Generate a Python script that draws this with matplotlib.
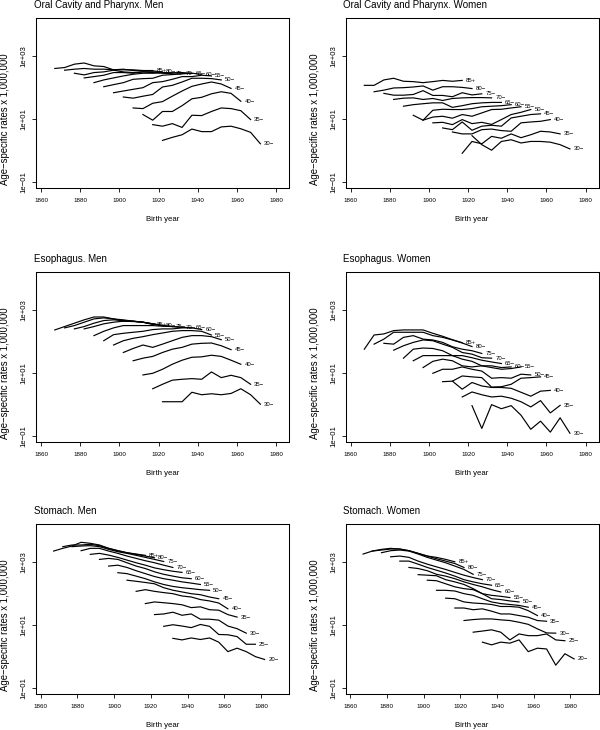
import matplotlib
matplotlib.use('Agg')
import matplotlib.pyplot as plt
from matplotlib.ticker import NullLocator

plt.rcParams['font.family'] = ['Liberation Sans', 'DejaVu Sans']

# calendar periods; birth cohort = period - age
periods = [1952, 1957, 1962, 1967, 1972, 1977, 1982, 1987, 1992, 1997, 2002]
ages_12 = [85, 80, 75, 70, 65, 60, 55, 50, 45, 40, 35, 30]
ages_14 = [85, 80, 75, 70, 65, 60, 55, 50, 45, 40, 35, 30, 25, 20]

# age-specific rates x 1,000,000, one row per age group (oldest first)
oral_men = [
    [395, 423, 541, 590, 479, 455, 358, 358, 358, 340, 340],
    [348, 375, 395, 375, 375, 358, 375, 340, 331, 331, 308],
    [279, 247, 293, 308, 348, 308, 293, 308, 293, 279, 266],
    [198, 218, 241, 293, 293, 279, 308, 308, 293, 286, 279],
    [140, 171, 198, 229, 259, 279, 279, 293, 286, 293, 279],
    [104, 121, 140, 179, 188, 193, 241, 253, 266, 279, 259],
    [67, 76, 86, 97, 140, 151, 179, 218, 218, 241, 229],
    [49, 45, 52, 59, 102, 115, 147, 193, 193, 188, 171],
    [22, 21, 31, 35, 52, 76, 107, 127, 147, 127, 92],
    [13.6, 9.0, 17, 17, 26, 43, 48, 62, 72, 64, 36],
    [6.5, 5.8, 7.0, 5.3, 12.9, 12.6, 17, 22, 21, 18, 9.4],
    [2.05, 2.56, 3.1, 4.7, 3.9, 3.9, 5.5, 5.8, 4.8, 3.7, 1.6],
]
oral_women = [
    [115, 115, 171, 193, 155, 151, 140, 151, 165, 155, 165],
    [72, 81, 95, 97, 102, 110, 81, 104, 104, 99, 91],
    [64, 56, 56, 59, 78, 55, 55, 50, 67, 57, 62],
    [41, 45, 46, 41, 44, 38, 44, 46, 47, 47, 46],
    [25, 28, 30, 32, 32, 23, 26, 30, 32, 33, 33],
    [12.9, 9.0, 18.6, 20, 19.6, 19.6, 21, 24, 25, 26, 28],
    [9.0, 11.3, 12, 10.4, 13.6, 12, 15.3, 19.6, 20, 22, 24],
    [7.4, 7.7, 6.5, 9.4, 7.0, 7.7, 6.6, 9.4, 13.6, 16, 19.6],
    [5.1, 4.5, 7.9, 4.3, 5.8, 6.2, 5.8, 10.6, 12, 13.6, 14.3],
    [3.8, 3.3, 3.3, 4.5, 4.7, 4.2, 4.0, 7.4, 7.9, 8.3, 9.4],
    [0.8, 1.9, 1.6, 2.75, 2.4, 3.3, 2.5, 3.1, 4.0, 3.8, 3.3],
    [2.9, 1.5, 1.0, 1.9, 2.15, 1.7, 1.9, 1.9, 1.8, 1.5, 1.1],
]
esoph_men = [
    [229, 293, 375, 479, 590, 590, 513, 434, 434, 403, 340],
    [266, 315, 403, 513, 553, 513, 479, 434, 403, 358, 315],
    [247, 293, 375, 455, 479, 455, 434, 403, 358, 315, 293],
    [247, 293, 358, 403, 434, 423, 403, 358, 315, 293, 279],
    [151, 207, 266, 315, 315, 315, 315, 300, 293, 279, 266],
    [104, 162, 179, 193, 207, 235, 247, 247, 266, 266, 235],
    [76, 104, 124, 140, 162, 183, 207, 218, 218, 207, 158],
    [44, 59, 76, 64, 81, 104, 133, 151, 151, 140, 112],
    [24, 29, 33, 44, 56, 64, 81, 86, 88, 72, 54],
    [8.5, 9.6, 12.9, 18.6, 25, 31, 32, 36, 33, 25, 18.6],
    [3.1, 4.3, 5.8, 6.2, 6.5, 6.2, 10.6, 7.0, 8.3, 7.0, 4.3],
    [1.2, 1.2, 1.2, 2.4, 2.0, 2.15, 2.0, 2.2, 3.1, 2.0, 1.0],
]
esoph_women = [
    [56, 158, 171, 218, 229, 229, 229, 179, 144, 112, 90],
    [81, 117, 193, 193, 193, 193, 151, 133, 110, 88, 68],
    [86, 81, 133, 151, 117, 110, 92, 67, 56, 50, 41],
    [52, 72, 92, 110, 104, 81, 64, 44, 39, 30, 29],
    [29, 56, 61, 59, 50, 35, 35, 30, 25, 22, 19.6],
    [24, 35, 35, 35, 35, 27, 23, 16.6, 16.6, 14.6, 15.3],
    [14.6, 23, 27, 24, 16.6, 15.3, 16.6, 14.6, 12.9, 13.6, 15.3],
    [9.6, 12.9, 12.9, 15.3, 12.9, 11.3, 6.7, 7.0, 6.7, 9.0, 8.5],
    [5.2, 5.4, 7.9, 7.4, 7.0, 3.5, 3.6, 4.3, 6.7, 7.0, 7.4],
    [5.4, 3.0, 4.9, 3.8, 3.4, 3.4, 3.2, 2.4, 1.8, 2.6, 2.75],
    [1.7, 2.45, 2.0, 1.7, 1.8, 1.55, 1.2, 0.82, 1.3, 0.53, 0.92],
    [0.9, 0.17, 0.97, 0.72, 0.9, 0.45, 0.16, 0.29, 0.13, 0.37, 0.12],
]
stomach_men = [
    [2190, 2670, 3170, 4160, 3860, 3410, 2670, 2250, 1940, 1760, 1600],
    [3020, 3410, 3410, 3590, 3250, 2670, 2250, 1940, 1720, 1520, 1340],
    [3020, 3170, 3250, 3020, 2480, 2090, 1850, 1600, 1380, 1190, 1020],
    [2250, 2670, 2670, 2190, 1850, 1520, 1280, 1080, 930, 780, 660],
    [1720, 1850, 1630, 1380, 1130, 930, 780, 640, 560, 500, 460],
    [1190, 1280, 1190, 930, 730, 610, 480, 400, 350, 310, 290],
    [730, 780, 660, 520, 420, 340, 290, 260, 230, 210, 190],
    [450, 420, 350, 290, 230, 190, 165, 150, 140, 130, 124],
    [260, 240, 220, 200, 150, 125, 110, 97, 90, 76, 67],
    [115, 130, 115, 105, 97, 82, 76, 63, 57, 49, 32],
    [47, 53, 50, 47, 43, 35, 37, 30, 29, 21, 17.5],
    [21, 22, 25, 20, 22, 15, 15, 14, 9.1, 7.5, 5.4],
    [8.9, 10, 9.1, 8.1, 10.2, 8.9, 4.9, 4.8, 4.2, 2.4, 2.4],
    [3.7, 3.3, 3.8, 3.4, 3.8, 2.8, 1.4, 1.8, 1.4, 0.97, 0.79],
]
stomach_women = [
    [1760, 2190, 2480, 2670, 2540, 2250, 1850, 1520, 1380, 1190, 1000],
    [2190, 2360, 2540, 2540, 2250, 1850, 1520, 1250, 1050, 880, 660],
    [1940, 2250, 2360, 2190, 1760, 1380, 1130, 930, 730, 570, 400],
    [1440, 1520, 1380, 1050, 840, 690, 570, 460, 375, 315, 270],
    [1050, 1050, 840, 660, 540, 440, 350, 270, 230, 200, 180],
    [660, 610, 520, 400, 350, 290, 230, 190, 160, 130, 110],
    [390, 375, 360, 270, 230, 190, 140, 97, 86, 80, 73],
    [260, 250, 200, 160, 140, 130, 97, 67, 63, 57, 53],
    [124, 124, 118, 97, 86, 67, 53, 47, 44, 41, 36],
    [70, 67, 53, 49, 47, 44, 38, 38, 36, 28, 19.6],
    [34, 34, 30, 32, 27, 22, 22, 19.6, 17.3, 13.6, 12.9],
    [13.6, 14.6, 15.3, 15.3, 14.3, 13.6, 12, 10.3, 7.4, 5.5, 5.4],
    [5.8, 6.3, 6.9, 5.8, 3.3, 5.1, 4.5, 4.5, 5.1, 3.3, 3.1],
    [2.8, 2.3, 2.8, 2.6, 3.3, 1.4, 1.8, 1.7, 0.52, 1.2, 0.82],
]

titles = ['Oral Cavity and Pharynx. Men', 'Oral Cavity and Pharynx. Women',
          'Esophagus. Men', 'Esophagus. Women',
          'Stomach. Men', 'Stomach. Women']
panels = [oral_men, oral_women, esoph_men, esoph_women, stomach_men, stomach_women]
panel_ages = [ages_12, ages_12, ages_12, ages_12, ages_14, ages_14]

W, H = 600, 730
fig = plt.figure(figsize=(W / 100, H / 100), dpi=100)
col_left = [36, 345.5]
row_top = [18, 272, 524]
bw, bh = 253, 170

for i in range(6):
    r, c = i // 2, i % 2
    ax = fig.add_axes([col_left[c] / W, 1 - (row_top[r] + bh) / H, bw / W, bh / H])
    ages = panel_ages[i]
    for age, vals in zip(ages, panels[i]):
        x = [p - age for p in periods]
        ax.plot(x, vals, color='black', lw=0.85)
        lab = '85+' if age == 85 else '%d\u2212' % age
        ax.annotate(lab, (x[-1], vals[-1]), xytext=(2.6, 0), textcoords='offset points',
                    ha='left', va='center', fontsize=4.3)
    ax.set_yscale('log')
    ax.set_ylim(10 ** -1.2, 10 ** 4.2)
    if r < 2:
        ax.set_xlim(1857.4, 1986.6)
    else:
        ax.set_xlim(1857.4, 1995.3)
    ax.set_xticks([1860, 1880, 1900, 1920, 1940, 1960, 1980])
    ax.set_yticks([0.1, 10, 1000])
    ax.set_yticklabels(['1e\u221201', '1e+01', '1e+03'], rotation=90, va='center')
    ax.yaxis.set_minor_locator(NullLocator())
    ax.tick_params(axis='x', direction='out', length=3, width=0.6, labelsize=4.5, pad=4.2)
    ax.tick_params(axis='y', direction='out', length=3, width=0.6, labelsize=5.6, pad=3.0)
    for s in ax.spines.values():
        s.set_linewidth(0.75)
    ax.annotate(titles[i], xy=(0, 1), xycoords='axes fraction', xytext=(-1.5, 9.4),
                textcoords='offset points', ha='left', va='center', fontsize=7)
    ax.annotate('Birth year', xy=(0.5, 0), xycoords='axes fraction', xytext=(0, -23),
                textcoords='offset points', ha='center', va='center', fontsize=5.6)
    ax.annotate('Age\u2212specific rates x 1,000,000', xy=(0, 10),
                xycoords=('axes fraction', 'data'),
                xytext=(-22.3, 0), textcoords='offset points', ha='center', va='center',
                rotation=90, fontsize=6.9)

fig.savefig('out.png', dpi=100)
